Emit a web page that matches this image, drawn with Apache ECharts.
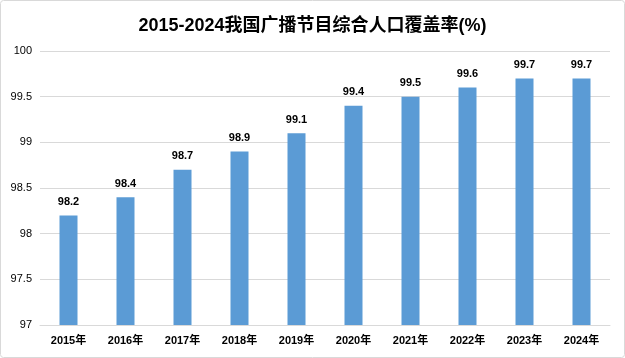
<!DOCTYPE html>
<html><head><meta charset="utf-8">
<script src="https://cdn.jsdelivr.net/npm/echarts@6/dist/echarts.min.js"></script>
<style>html,body{margin:0;padding:0;background:#fff}#c{width:625px;height:358px}</style>
</head><body><div id="c"></div>
<script>
var titleText = '2015-2024我国广播节目综合人口覆盖率(%)';
var categories = ['2015年','2016年','2017年','2018年','2019年','2020年','2021年','2022年','2023年','2024年'];
var coverage = [98.2, 98.4, 98.7, 98.9, 99.1, 99.4, 99.5, 99.6, 99.7, 99.7];
var yTicks = [97, 97.5, 98, 98.5, 99, 99.5, 100];

var font = '"Liberation Sans","Noto Sans CJK SC",sans-serif';
var chart = echarts.init(document.getElementById('c'));
chart.setOption({
  animation: false,
  title: {text: titleText, left: 'center', top: 12,
    textStyle: {fontFamily: font, fontSize: 18, fontWeight: 'bold', color: '#000'}},
  graphic: [{type: 'rect', shape: {x: 0.5, y: 0.5, width: 624, height: 357, r: 3},
    style: {fill: 'none', stroke: '#d9d9d9', lineWidth: 1}, silent: true}],
  grid: {left: 40, right: 15, top: 51, bottom: 33},
  xAxis: {type: 'category', data: categories,
    axisLine: {lineStyle: {color: '#d9d9d9'}}, axisTick: {show: false},
    axisLabel: {fontFamily: font, fontSize: 11, fontWeight: 'bold', color: '#000', margin: 10}},
  yAxis: {type: 'value', min: yTicks[0], max: yTicks[yTicks.length - 1], interval: 0.5,
    axisLine: {show: false}, axisTick: {show: false},
    splitLine: {lineStyle: {color: '#d9d9d9'}},
    axisLabel: {fontFamily: font, fontSize: 11, color: '#000', margin: 8}},
  series: [{type: 'bar', data: coverage, barWidth: 18,
    itemStyle: {color: '#5b9bd5'},
    label: {show: true, position: 'top', distance: 8, fontFamily: font, fontSize: 11, fontWeight: 'bold', color: '#000'}}]
});
</script></body></html>
